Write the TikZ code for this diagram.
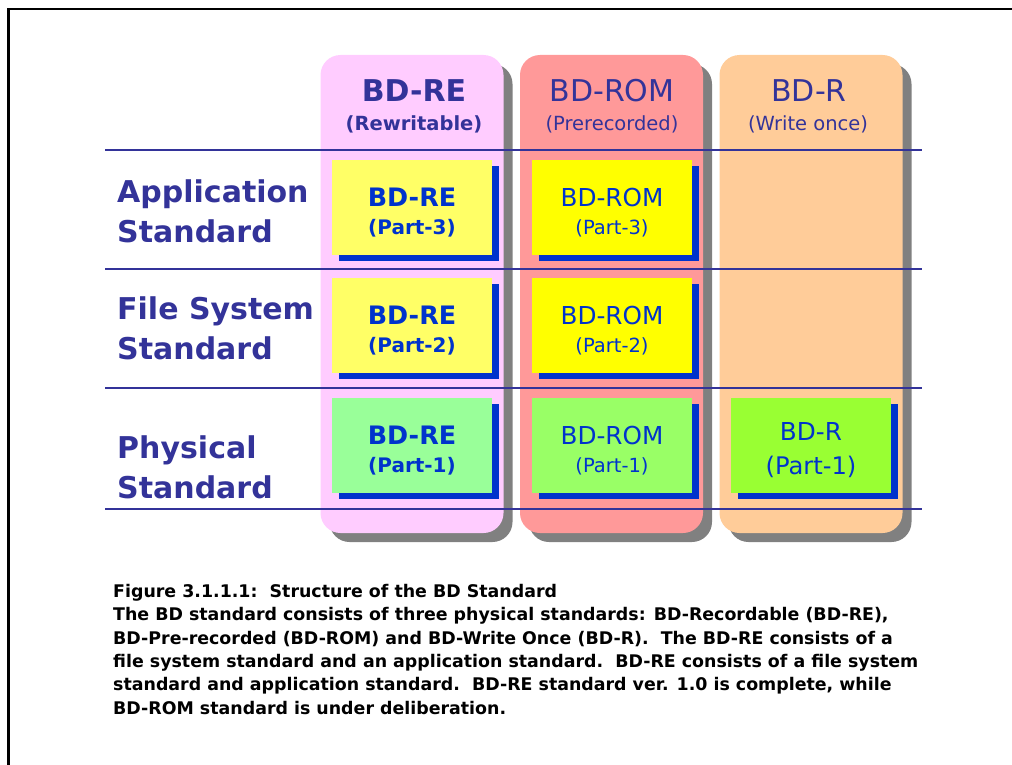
\documentclass[tikz,border=0pt]{standalone}
\usepackage{fontspec}
\setmainfont{DejaVu Sans}
\usetikzlibrary{shadows}

\definecolor{tinta}{RGB}{51,51,153}
\definecolor{azul}{RGB}{0,51,204}
\definecolor{sombra}{RGB}{128,128,128}
\definecolor{rosa}{RGB}{255,204,255}
\definecolor{salmon}{RGB}{255,153,153}
\definecolor{naranja}{RGB}{255,204,153}
\definecolor{amarilloA}{RGB}{255,255,102}
\definecolor{amarilloB}{RGB}{255,255,0}
\definecolor{verdeA}{RGB}{153,255,153}
\definecolor{verdeB}{RGB}{153,255,102}
\definecolor{verdeC}{RGB}{153,255,51}

% puntal para bajar el texto dentro de las cajas
\newcommand{\arriba}{\rule{0pt}{28pt}}

\begin{document}
\begin{tikzpicture}[x=1pt, y=-1pt,
    columna/.style={rectangle, rounded corners=20pt, minimum width=183pt,
      minimum height=478pt, inner sep=0pt,
      drop shadow={shadow xshift=9pt, shadow yshift=-9pt, fill=sombra, opacity=1}},
    caja/.style={rectangle, minimum width=160pt, minimum height=95pt,
      inner sep=0pt, align=center, text=azul,
      drop shadow={shadow xshift=7pt, shadow yshift=-6pt, fill=azul, opacity=1}},
    titulo/.style={text=tinta, inner sep=0pt, align=center, anchor=base},
    fila/.style={text=tinta, inner sep=0pt, align=left, anchor=base west,
      font=\bfseries\fontsize{30}{40}\selectfont},
    regla/.style={draw=tinta, line width=1.2pt}]

    \useasboundingbox (0,0) rectangle (1012,765);

    % Marco
    \draw[line width=2.5pt] (8.5,765) -- (8.5,9) -- (1012,9);

    % Columnas
    \node[columna, fill=rosa] (colRE) at (412,294) {};
    \node[columna, fill=salmon] (colROM) at (611.5,294) {};
    \node[columna, fill=naranja] (colR) at (811,294) {};

    % Lineas entre filas
    \foreach \y in {150,269,388,509}
      \draw[regla] (105,\y) -- (922,\y);

    % Encabezados
    \node[titulo, font=\bfseries\fontsize{30}{36}\selectfont] (tRE) at (414,102) {BD-RE};
    \node[titulo, font=\bfseries\fontsize{19.5}{24}\selectfont] (sRE) at (414,131) {(Rewritable)};
    \node[titulo, font=\fontsize{30}{36}\selectfont] (tROM) at (612,102) {BD-ROM};
    \node[titulo, font=\fontsize{19.5}{24}\selectfont] (sROM) at (612,131) {(Prerecorded)};
    \node[titulo, font=\fontsize{30}{36}\selectfont] (tR) at (809,102) {BD-R};
    \node[titulo, font=\fontsize{19.5}{24}\selectfont] (sR) at (808,131) {(Write once)};

    % Etiquetas de las filas (base de la ultima linea)
    \node[fila] (etqApp) at (117,242) {Application\\Standard};
    \node[fila] (etqFS) at (117,359) {File System\\Standard};
    \node[fila] (etqFis) at (117,498) {Physical\\Standard};

    % Cajas BD-RE
    \node[caja, fill=amarilloA, font=\bfseries\fontsize{25.4}{28}\selectfont] (re3) at (412,207.5)
      {\arriba BD-RE\\{\fontsize{20}{28}\selectfont (Part-3)}};
    \node[caja, fill=amarilloA, font=\bfseries\fontsize{25.4}{28}\selectfont] (re2) at (412,325.5)
      {\arriba BD-RE\\{\fontsize{20}{28}\selectfont (Part-2)}};
    \node[caja, fill=verdeA, font=\bfseries\fontsize{25.4}{28}\selectfont] (re1) at (412,445.5)
      {\arriba BD-RE\\{\fontsize{20}{28}\selectfont (Part-1)}};

    % Cajas BD-ROM
    \node[caja, fill=amarilloB, font=\fontsize{24.7}{28}\selectfont] (rom3) at (612,207.5)
      {\arriba BD-ROM\\{\fontsize{19.5}{28}\selectfont (Part-3)}};
    \node[caja, fill=amarilloB, font=\fontsize{24.7}{28}\selectfont] (rom2) at (612,325.5)
      {\arriba BD-ROM\\{\fontsize{19.5}{28}\selectfont (Part-2)}};
    \node[caja, fill=verdeB, font=\fontsize{24.7}{28}\selectfont] (rom1) at (612,445.5)
      {\arriba BD-ROM\\{\fontsize{19.5}{28}\selectfont (Part-1)}};

    % Caja BD-R
    \node[caja, fill=verdeC, font=\fontsize{24.7}{34}\selectfont] (r1) at (811,445.5)
      {\arriba BD-R\\{\fontsize{24.2}{34}\selectfont (Part-1)}};

    % Pie de figura
    \node[inner sep=0pt, align=left, anchor=base west,
      font=\bfseries\fontsize{17.4}{23.3}\selectfont] (pie) at (113,714)
      {Figure 3.1.1.1:\ \ Structure of the BD Standard\\
       The BD standard consists of three physical standards: BD-Recordable (BD-RE),\\
       BD-Pre-recorded (BD-ROM) and BD-Write Once (BD-R).\ \ The BD-RE consists of a\\
       file system standard and an application standard.\ \ BD-RE consists of a file system\\
       standard and application standard.\ \ BD-RE standard ver. 1.0 is complete, while\\
       BD-ROM standard is under deliberation.};
\end{tikzpicture}
\end{document}
